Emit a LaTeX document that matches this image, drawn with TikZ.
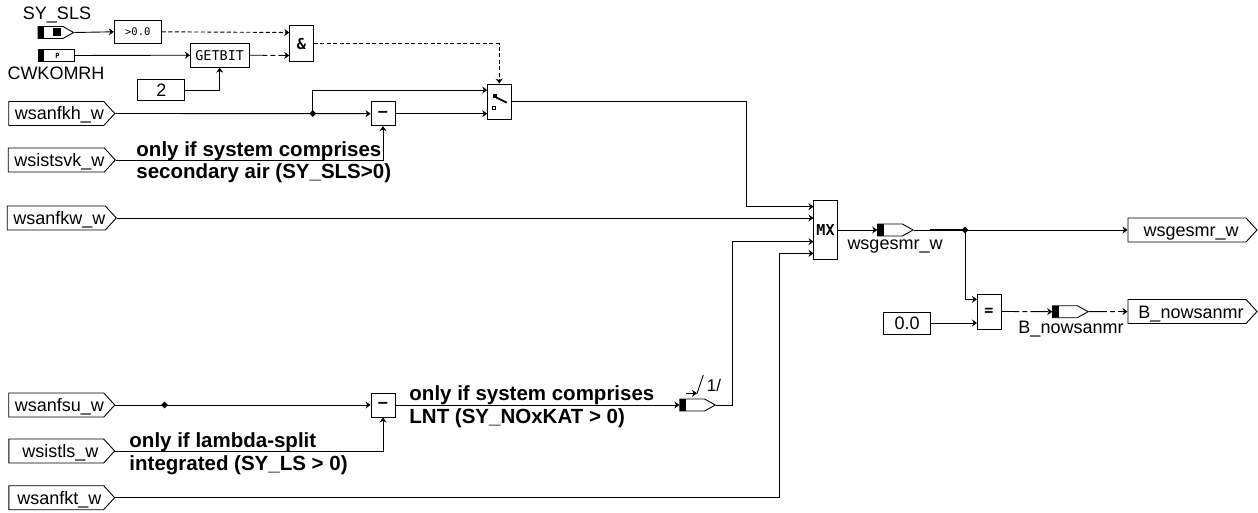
\documentclass[tikz,border=0pt]{standalone}
\usepackage{fontspec}
\usepackage{tikz}
\setmainfont{Liberation Sans}
\newfontfamily\blockfont{DejaVu Sans Mono}
\usetikzlibrary{arrows.meta,calc,shapes.geometric,shapes.symbols}

\begin{document}
\begin{tikzpicture}[x=1pt,y=-1pt,>={Stealth[length=5pt,width=7pt]},line width=0.9pt,
    port/.style={signal,signal to=east,signal pointer angle=95,draw,inner sep=0pt,
        minimum width=105.7pt,minimum height=24pt,font=\fontsize{18}{20}\selectfont,
        text height=13pt,text depth=0pt,
        execute at begin node=\hspace*{6pt}},
    outport/.style={port,minimum width=129pt,execute at begin node=\hspace*{2pt}},
    msgbox/.style={signal,signal to=east,signal pointer angle=58,draw,inner sep=0pt,
        minimum width=35.5pt,minimum height=12pt,
        path picture={\fill (path picture bounding box.north west) rectangle
            ([xshift=6pt]path picture bounding box.south west);}},
    blockbox/.style={draw,inner sep=0pt,minimum width=24pt,minimum height=24pt},
    opfont/.style={font=\blockfont\bfseries\fontsize{15}{17}\selectfont},
    constbox/.style={draw,inner sep=0pt,minimum width=47pt,minimum height=22pt,
        font=\fontsize{18}{20}\selectfont},
    junc/.style={diamond,fill=black,inner sep=0pt,minimum size=7pt},
    lab/.style={inner sep=0pt,font=\fontsize{18}{20}\selectfont},
    note/.style={inner sep=0pt,anchor=west,align=left,
        font=\fontsize{20.5}{22.5}\selectfont\bfseries},
    ctldash/.style={dash pattern=on 4pt off 2.5pt},
    ctldot/.style={dash pattern=on 18pt off 3pt on 5pt off 3pt}]
    \useasboundingbox (0,0) rectangle (1258,513);

    % inputs
    \node[port] (fkh) at (56.3,113.5) {wsanfkh\_w};
    \node[port] (svk) at (56.3,160) {wsistsvk\_w};
    \node[port] (fkw) at (56.3,218) {wsanfkw\_w};
    \node[port] (fsu) at (56.3,405) {wsanfsu\_w};
    \node[port,execute at begin node={\hspace*{2pt}}] (tls) at (56.3,451) {wsistls\_w};
    \node[port] (fkt) at (56.3,497.7) {wsanfkt\_w};
    \node[lab] (lsy) at (57,15) {SY\_SLS};
    \node[lab] (lcw) at (56,73) {CWKOMRH};
    \node[msgbox] (sy) at (50.5,32.5) {};
    \fill (52.5,28.2) rectangle (60.5,35.8);
    \node[draw,inner sep=0pt,minimum width=36pt,minimum height=12pt,
        path picture={\fill (path picture bounding box.north west) rectangle
            ([xshift=6pt]path picture bounding box.south west);}] (cw) at (56,55.5)
        {\hspace{3pt}\blockfont\bfseries\fontsize{7}{7}\selectfont P};

    % blocks
    \node[blockbox,minimum width=47pt,minimum height=23pt,font=\blockfont\fontsize{10.5}{12}\selectfont] (gt) at (137.8,31.8) {>0.0};
    \node[blockbox,minimum width=58.5pt,font=\blockfont\fontsize{13.5}{15}\selectfont] (gb) at (219.7,55.2) {GETBIT};
    \node[constbox,minimum height=21.5pt] (two) at (161.3,90) {2};
    \node[blockbox,minimum height=35.5pt,opfont] (and) at (301.3,43.6) {\&};
    \node[blockbox,opfont] (mna) at (383,113.7) {–};
    \node[blockbox,minimum height=35pt] (sw) at (499.2,101.5) {};
    \draw[line width=1.8pt] (493.5,96) -- (506.7,102.7);
    \fill (492.8,94.5) rectangle (496.5,98);
    \draw[line width=0.8pt] (492.7,106.2) rectangle (495.5,109);
    \node[blockbox,opfont] (mnb) at (383,405) {–};
    \node[msgbox] (nox) at (692.2,405) {};
    \node[blockbox,minimum height=58.5pt,opfont] (mx) at (825.5,230) {MX};
    \node[msgbox] (ges) at (890,230) {};
    \node[lab] (lges) at (895,247) {wsgesmr\_w};
    \node[blockbox,minimum height=35pt,opfont] (eq) at (989,311.5) {=};
    \node[constbox] (zero) at (907.2,323) {0.0};
    \node[msgbox] (nowm) at (1065,311.7) {};
    \node[lab] (lnow) at (1071,329) {B\_nowsanmr};

    % outputs
    \node[outport] (outges) at (1187,230) {wsgesmr\_w};
    \node[outport] (outnow) at (1187,311.5) {B\_nowsanmr};

    % pins
    \coordinate (anda) at (289.3,32.5);
    \coordinate (andb) at (289.3,55.5);
    \coordinate (swa) at (487.2,90);
    \coordinate (swb) at (487.2,113.7);
    \coordinate (mxa) at (813.5,206.7);
    \coordinate (mxb) at (813.5,218);
    \coordinate (mxc) at (813.5,241.7);
    \coordinate (mxd) at (813.5,253.3);
    \coordinate (kneea) at (746,206.7);
    \coordinate (kneec) at (732.7,241.7);
    \coordinate (kneed) at (779,253.3);
    \coordinate (eqa) at (977,299.3);
    \coordinate (eqb) at (977,323);
    \coordinate (thk) at (930,230);

    % wires
    \node[junc] (ja) at (312.7,113.5) {};
    \node[junc] (jb) at (164.5,405) {};
    \node[junc] (jc) at (965,230) {};
    \draw[->] (sy.east) -- (gt.west);
    \draw[->] (cw.east) -- (gb.west);
    \draw[->] (two.east) -| (gb.south);
    \draw[->,ctldash] (gt.east) -- (anda);
    \draw[->,ctldot] (gb.east) -- (andb);
    \draw[->,ctldash] (and.east) -| (sw.north);
    \draw[->] (fkh.east) -- (mna.west);
    \draw[->] (ja.center) |- (swa);
    \draw[->] (mna.east) -- (swb);
    \draw[->] (svk.east) -| (mna.south);
    \draw[->] (sw.east) -| (kneea) -- (mxa);
    \draw[->] (fkw.east) -- (mxb);
    \draw[->] (fsu.east) -- (mnb.west);
    \draw[->] (tls.east) -| (mnb.south);
    \draw[->] (mnb.east) -- (nox.west);
    \draw[->] (nox.east) -| (kneec) -- (mxc);
    \draw[->] (fkt.east) -| (kneed) -- (mxd);
    \draw[->] (mx.east) -- (ges.west);
    \draw (ges.east) -- (jc.center);
    \draw[line width=1.5pt] (thk) -- (jc.center);
    \draw[->] (jc.center) -- (outges.west);
    \draw[->] (jc.center) |- (eqa);
    \draw[->] (zero.east) -- (eqb);
    \draw[->,ctldot] (eq.east) -- (nowm.west);
    \draw[->,ctldot] (nowm.east) -- (outnow.west);

    % notes
    \node[note] (nsvk) at (136,162) {only if system comprises\\secondary air (SY\_SLS>0)};
    \node[note] (ntls) at (129,453.5) {only if lambda-split\\integrated (SY\_LS > 0)};
    \node[note] (nnox) at (409,406.5) {only if system comprises\\LNT (SY\_NOxKAT > 0)};

    % width mark
    \coordinate (mka) at (686,393.3);
    \coordinate (mkb) at (697,393.3);
    \coordinate (mkc) at (703.3,375);
    \draw[->] (mka) -- (mkb);
    \draw (mkb) -- (mkc);
    \node[lab,font=\fontsize{17}{19}\selectfont] (lwd) at (714,385) {1/};
\end{tikzpicture}
\end{document}
